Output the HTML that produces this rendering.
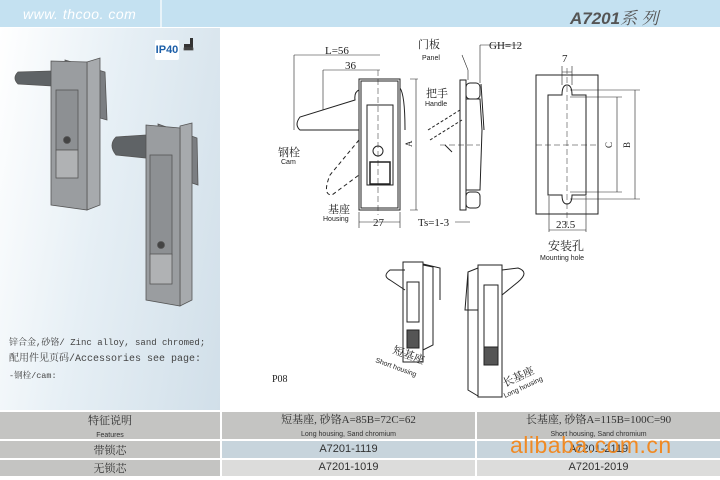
<!DOCTYPE html>
<html><head><meta charset="utf-8"><style>
body{margin:0;width:720px;height:480px;overflow:hidden;background:#fff;font-family:"Liberation Sans","Noto Sans CJK SC",sans-serif;position:relative}
.a{position:absolute}
.c{position:absolute;text-align:center;color:#333}
</style></head><body>
<div class="a" style="left:0;top:0;width:720px;height:27px;background:#c4e1f1"></div>
<div class="a" style="left:160px;top:0;width:2px;height:27px;background:#e8f3f9"></div>
<div class="a" style="left:23px;top:6px;font-size:14px;font-style:italic;color:#fff;letter-spacing:0.5px">www. thcoo. com</div>
<div class="a" style="left:570px;top:4px;font-size:17px;color:#555"><b><i>A7201</i></b><span style="font-family:'Noto Serif CJK SC',serif;font-style:italic">系 列</span></div>
<div class="a" style="left:0;top:28px;width:220px;height:382px;background:linear-gradient(100deg,#ffffff 0%,#e6eff5 45%,#d1dfe9 100%)"></div>
<div class="a" style="left:155px;top:40px;width:24px;height:20px;background:#fff;border-radius:2px;font-size:11px;font-weight:bold;color:#1d5fa8;line-height:20px;text-align:center">IP40</div>
<div class="a" style="left:9px;top:335px;font-family:'Liberation Mono','Noto Serif CJK SC',monospace;font-size:9px;line-height:16px;color:#444;white-space:nowrap">锌合金,砂铬/ Zinc alloy, sand chromed;<br><span style="font-size:10px">配用件见页码/Accessories see page:</span><br><span style="font-size:8.5px">-钢栓/cam:</span></div>
<svg class="a" style="left:0;top:0" width="720" height="410">
<g fill="#8a8d90" stroke="#555" stroke-width="0.8">
<rect x="184" y="44" width="7" height="6" fill="#333" stroke="none"/><rect x="190" y="38" width="3" height="12" fill="#333" stroke="none"/><rect x="184" y="48" width="9" height="2" fill="#333"/>
<path d="M65 60 L105 72 L107 120 L65 108Z" fill="#7b7e82"/>
<path d="M87 62 L100 58 L100 205 L87 210Z" fill="#a7aaad"/>
<path d="M52 71 L18 72 Q12 78 18 84 L52 86Z" fill="#5f6366"/>
<path d="M51 61 L87 62 L87 210 L51 205Z" fill="#9a9da0"/>
<rect x="56" y="90" width="22" height="60" fill="#8d9093"/>
<circle cx="67" cy="140" r="3.5" fill="#444"/>
<rect x="56" y="150" width="22" height="28" fill="#b0b2b4"/>
<path d="M158 124 L197 138 L198 185 L160 172Z" fill="#7b7e82"/>
<path d="M180 126 L192 123 L192 300 L180 306Z" fill="#a7aaad"/>
<path d="M146 135 L116 137 Q108 145 116 155 L146 158Z" fill="#5f6366"/>
<path d="M146 125 L180 128 L180 306 L146 300Z" fill="#9a9da0"/>
<rect x="150" y="155" width="22" height="100" fill="#8d9093"/>
<circle cx="161" cy="245" r="3.5" fill="#444"/>
<rect x="150" y="254" width="22" height="30" fill="#b0b2b4"/>
</g>
<g fill="none" stroke="#222" stroke-width="1">
<rect x="359" y="79" width="41" height="131"/><rect x="361" y="81" width="37" height="127"/>
<rect x="367" y="105" width="26" height="80"/>
<rect x="370" y="162" width="20" height="22" stroke-width="1.5"/>
<circle cx="378" cy="151" r="5"/>
<path d="M359 90 Q354 92 355 100 L300 117 Q294 125 300 130 L359 130"/>
<path d="M400 88 Q405 95 405 130"/>
<path d="M359 140 L330 175 Q322 195 332 195 L359 175" stroke-dasharray="4 3"/>
<path d="M294 55 L380 55 M294 55 L294 130 M323 70 L380 70 M323 70 L323 110 M359 222 L400 222 M359 212 L359 228 M400 212 L400 228 M410 79 L418 79 M410 210 L418 210 M416 79 L416 210" stroke-width="0.6"/>
<path d="M378 70 L378 215" stroke-width="0.5" stroke-dasharray="6 3"/>
<path d="M460 80 L466 80 L466 210 L460 210Z"/>
<rect x="466" y="83" width="14" height="16" rx="4"/><rect x="466" y="192" width="14" height="16" rx="4"/>
<path d="M466 99 L480 99 L482 130 L480 190 L466 190"/><path d="M481 84 L484 130"/>
<path d="M462 55 L468 70 L468 80 M480 45 L520 45 M480 45 L480 83 M455 222 L470 222" stroke-width="0.6"/>
<path d="M428 130 L460 110 M430 140 L462 120" stroke-dasharray="3 2"/>
<path d="M445 145 L452 152"/>
<path d="M440 145 L480 145" stroke-width="0.5" stroke-dasharray="6 3"/>
<rect x="536" y="75" width="62" height="139"/>
<path d="M548 95 L562 95 Q562 85 567 85 Q572 85 572 95 L586 95 L586 195 L572 195 Q572 204 567 204 Q562 204 562 195 L548 195Z"/>
<path d="M567 68 L567 225 M536 145 L598 145" stroke-width="0.5" stroke-dasharray="6 3"/>
<path d="M549 230 L586 230 M549 196 L549 232 M586 196 L586 232 M562 72 L572 72 M562 66 L562 85 M572 66 L572 85 M570 90 L640 90 M570 97 L622 97 M570 192 L622 192 M570 199 L640 199 M635 90 L635 199 M617 97 L617 192" stroke-width="0.6"/>
<rect x="403" y="262" width="20" height="100"/><rect x="407" y="282" width="12" height="40"/><rect x="407" y="330" width="12" height="18" fill="#555"/>
<path d="M423 265 L433 267 L433 345 L423 350 M405 270 L390 270 Q382 276 390 280 L405 290 M423 264 L440 268 L440 300"/>
<rect x="478" y="265" width="24" height="132"/><rect x="484" y="285" width="14" height="75"/><rect x="484" y="347" width="14" height="18" fill="#555"/>
<path d="M478 268 L468 272 L468 390 L478 396 M502 270 L518 268 Q530 272 518 282 L502 295 M468 272 L465 310 L478 310"/>
</g>
<g font-family="Liberation Serif,'Noto Serif CJK SC',serif" font-size="11" fill="#222">
<text x="325" y="54">L=56</text><text x="345" y="69">36</text><text x="373" y="226">27</text>
<text x="418" y="48">门板</text><text x="489" y="49">GH=12</text><text x="426" y="97">把手</text>
<text x="418" y="226">Ts=1-3</text><text x="278" y="156">钢栓</text><text x="328" y="213">基座</text>
<text x="562" y="62">7</text><text x="556" y="228">23.5</text><text x="548" y="250" font-size="12">安装孔</text>
<text x="412" y="147" font-size="9" transform="rotate(-90 412 147)">A</text>
<text x="612" y="148" font-size="9" transform="rotate(-90 612 148)">C</text>
<text x="630" y="148" font-size="9" transform="rotate(-90 630 148)">B</text>
<text x="272" y="382" font-size="10">P08</text>
<text x="392" y="353" transform="rotate(20 392 353)">短基座</text>
<text x="505" y="387" transform="rotate(-25 505 387)">长基座</text>
</g>
<g font-family="Liberation Sans,sans-serif" font-size="7" fill="#222">
<text x="422" y="60">Panel</text><text x="425" y="106">Handle</text><text x="281" y="164">Cam</text>
<text x="323" y="221">Housing</text><text x="540" y="260">Mounting hole</text>
<text x="375" y="362" transform="rotate(20 375 362)">Short housing</text>
<text x="505" y="398" transform="rotate(-25 505 398)">Long housing</text>
</g>
</svg>
<div class="a" style="left:0;top:412px;width:220px;height:27px;background:#c4c4c2"></div>
<div class="a" style="left:222px;top:412px;width:253px;height:27px;background:#c4c4c2"></div>
<div class="a" style="left:477px;top:412px;width:243px;height:27px;background:#c4c4c2"></div>
<div class="a" style="left:0;top:441px;width:220px;height:17px;background:#c4c4c2"></div>
<div class="a" style="left:222px;top:441px;width:253px;height:17px;background:#c7d4dc"></div>
<div class="a" style="left:477px;top:441px;width:243px;height:17px;background:#c7d4dc"></div>
<div class="a" style="left:0;top:460px;width:220px;height:16px;background:#c4c4c2"></div>
<div class="a" style="left:222px;top:460px;width:253px;height:16px;background:#dcdcdb"></div>
<div class="a" style="left:477px;top:460px;width:243px;height:16px;background:#dcdcdb"></div>
<div class="c" style="left:0;top:414px;width:220px;font-size:11px;line-height:13px;font-family:'Noto Serif CJK SC',serif">特征说明<br><span style="font-family:'Liberation Sans';font-size:7px">Features</span></div>
<div class="c" style="left:222px;top:414px;width:253px;font-size:11px;line-height:13px;font-family:'Liberation Serif','Noto Serif CJK SC',serif">短基座, 砂铬A=85B=72C=62<br><span style="font-family:'Liberation Sans';font-size:7px">Long housing, Sand chromium</span></div>
<div class="c" style="left:477px;top:414px;width:243px;font-size:11px;line-height:13px;font-family:'Liberation Serif','Noto Serif CJK SC',serif">长基座, 砂铬A=115B=100C=90<br><span style="font-family:'Liberation Sans';font-size:7px">Short housing, Sand chromium</span></div>
<div class="c" style="left:0;top:442px;width:220px;font-size:11px;font-family:'Noto Serif CJK SC',serif">带锁芯</div>
<div class="c" style="left:0;top:460px;width:220px;font-size:11px;font-family:'Noto Serif CJK SC',serif">无锁芯</div>
<div class="c" style="left:222px;top:443px;width:253px;font-size:11px">A7201-1119</div>
<div class="c" style="left:477px;top:443px;width:243px;font-size:11px">A7201-2119</div>
<div class="c" style="left:222px;top:461px;width:253px;font-size:11px">A7201-1019</div>
<div class="c" style="left:477px;top:461px;width:243px;font-size:11px">A7201-2019</div>
<div class="a" style="left:510px;top:432px;font-size:23px;color:#f08a24;letter-spacing:0.5px">alibaba.com.cn</div>
</body></html>
